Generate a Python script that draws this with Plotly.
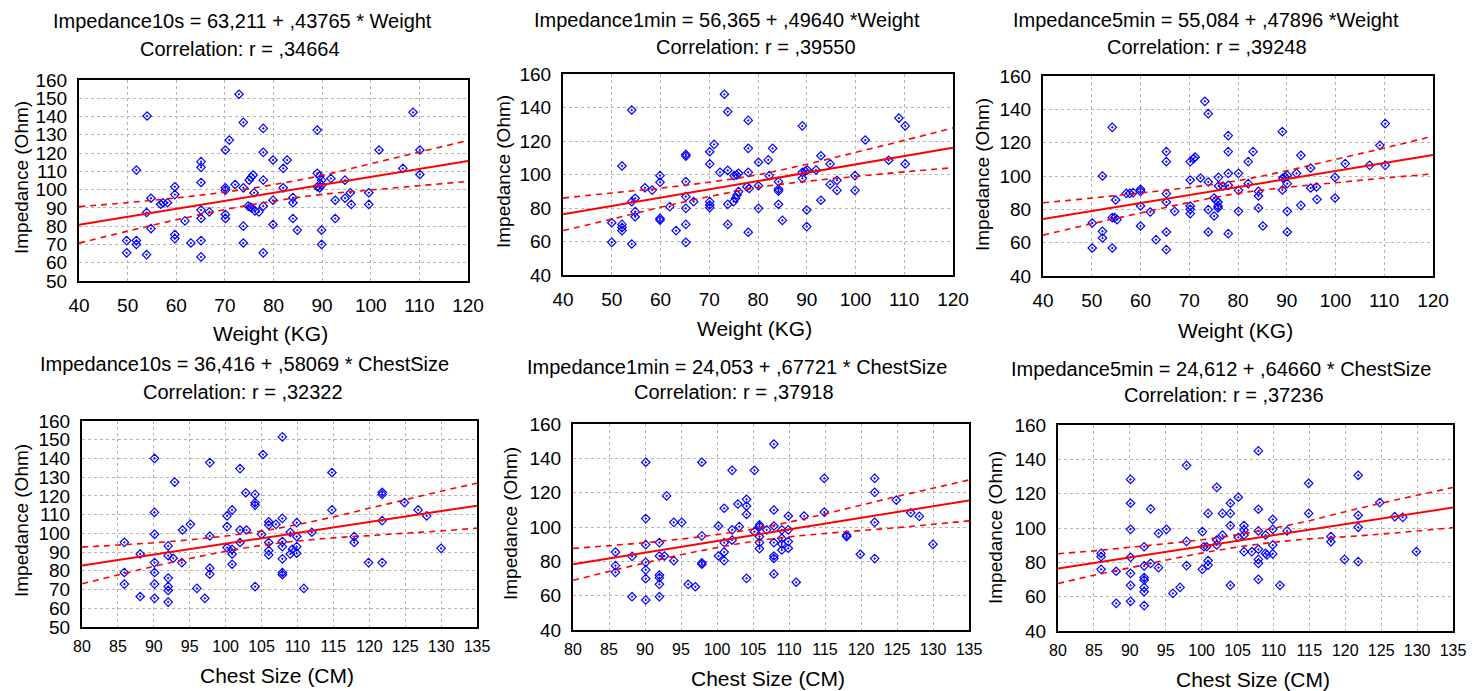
import plotly.graph_objects as go

FONT = "Liberation Sans, Arial, sans-serif"
OFF = 8                      # page body margin of the html page
W, H = 1477 - OFF, 691 - OFF

# ---------------- data ----------------
# Panel 1: Impedance10s vs Weight
p1_weight = [54.0, 51.8, 49.8, 49.8, 51.8, 51.8, 53.9, 53.9, 54.8, 54.8, 56.8, 57.3, 58.2, 59.7, 59.7, 59.7, 59.7,
             61.8, 63.0, 65.1, 65.1, 65.1, 65.1, 65.1, 65.1, 65.1, 66.8, 70.1, 70.9, 70.1, 70.1, 70.1, 70.1, 72.1,
             72.9, 73.8, 73.8, 73.8, 73.8, 75.0, 75.4, 75.8, 74.8, 75.2, 75.5, 76.0, 76.2, 77.0, 77.9, 77.9, 77.9,
             77.9, 77.9, 79.9, 79.9, 79.9, 82.0, 82.8, 82.0, 84.0, 84.0, 84.0, 84.9, 89.0, 89.0, 89.5, 89.0, 89.5,
             89.9, 89.9, 89.9, 89.9, 91.8, 92.7, 92.7, 94.7, 94.7, 95.8, 96.0, 99.6, 99.6, 101.7, 106.6, 108.7,
             110.1, 110.1]
p1_imp10s = [140.3, 110.7, 72.1, 65.4, 72.1, 70.0, 64.4, 87.5, 95.3, 78.7, 92.0, 92.8, 92.8, 101.6, 97.3, 75.4, 73.2,
             82.9, 70.8, 115.3, 112.2, 103.9, 88.8, 84.2, 72.1, 63.2, 87.8, 121.7, 127.1, 101.0, 99.7, 86.4, 84.2,
             102.8, 152.2, 136.8, 101.0, 80.0, 70.8, 105.2, 106.7, 108.0, 91.0, 90.5, 90.0, 98.3, 88.4, 87.8, 133.5,
             120.4, 105.2, 91.0, 65.4, 116.2, 94.2, 80.9, 111.6, 116.2, 101.0, 95.7, 92.8, 84.2, 77.8, 132.6, 108.9,
             107.4, 101.6, 101.0, 105.2, 102.5, 77.8, 70.0, 106.1, 94.2, 84.2, 105.2, 95.3, 98.3, 91.9, 98.3, 91.9,
             121.7, 111.6, 142.3, 121.7, 108.3]

# Panel 2: Impedance1min vs Weight
p2_weight = [54.1, 52.1, 50.0, 50.0, 52.1, 52.1, 52.1, 54.1, 54.1, 54.8, 54.8, 54.8, 56.8, 58.3, 59.9, 59.9, 59.9,
             59.9, 61.9, 63.2, 65.2, 65.2, 65.2, 65.2, 65.2, 65.2, 65.2, 66.8, 70.1, 71.0, 70.1, 70.1, 70.1, 70.1,
             72.2, 73.1, 73.8, 73.8, 73.8, 73.8, 75.1, 75.6, 76.0, 75.0, 75.4, 75.7, 76.0, 78.0, 78.0, 78.0, 77.7,
             78.2, 78.0, 80.1, 80.1, 80.1, 82.1, 83.0, 82.3, 84.2, 84.2, 84.2, 84.2, 85.0, 89.1, 89.1, 89.7, 90.1,
             89.1, 90.0, 90.0, 91.9, 92.9, 92.9, 94.8, 94.8, 96.2, 96.2, 99.9, 99.9, 102.0, 106.8, 108.9, 110.2,
             110.2]
p2_imp1min = [138.5, 105.1, 71.2, 59.5, 70.2, 68.3, 66.5, 58.5, 83.8, 85.8, 77.8, 74.8, 92.1, 90.7, 99.3, 95.3, 73.8,
              72.8, 80.8, 66.5, 112.0, 111.0, 95.7, 86.8, 79.8, 70.2, 59.5, 83.8, 113.6, 118.0, 106.3, 83.8, 81.8,
              80.2, 101.3, 147.9, 137.5, 102.5, 82.2, 70.2, 99.3, 99.7, 100.7, 83.8, 85.8, 87.8, 89.8, 132.3, 115.6,
              101.3, 92.7, 91.7, 65.5, 107.3, 93.3, 79.8, 108.7, 115.6, 99.3, 95.7, 91.3, 90.1, 82.2, 72.6, 129.0,
              101.3, 102.0, 102.7, 97.7, 78.8, 68.9, 102.7, 111.2, 84.6, 106.3, 94.1, 96.5, 90.5, 99.3, 90.5, 120.6,
              108.5, 133.7, 129.0, 106.3]

# Panel 3: Impedance5min vs Weight
p3_weight = [54.2, 52.2, 50.1, 50.1, 52.2, 52.2, 54.2, 54.2, 54.7, 55.2, 54.9, 57.1, 57.8, 58.5, 60.0, 60.0, 60.0,
             60.0, 62.0, 63.2, 65.3, 65.3, 65.3, 65.3, 65.3, 65.3, 67.0, 70.2, 70.9, 71.2, 70.2, 70.2, 70.2, 70.2,
             72.3, 73.2, 73.9, 73.9, 73.9, 73.9, 75.1, 75.1, 75.5, 75.9, 75.9, 75.9, 76.0, 76.0, 76.9, 78.0, 78.0,
             78.0, 78.0, 78.0, 80.1, 80.1, 80.1, 82.1, 83.1, 82.1, 84.2, 84.2, 84.2, 85.1, 89.1, 89.1, 89.2, 89.6,
             90.1, 90.1, 90.1, 90.1, 92.0, 92.9, 92.9, 94.9, 94.9, 96.1, 96.2, 99.9, 99.9, 102.0, 107.0, 109.1,
             110.2, 110.2]
p3_imp5min = [129.2, 100.0, 71.8, 56.8, 66.8, 62.8, 56.8, 75.0, 75.0, 73.8, 85.6, 89.6, 89.6, 90.0, 92.0, 90.8, 82.0,
              70.0, 78.4, 61.8, 114.6, 108.6, 89.4, 84.4, 66.4, 55.8, 78.8, 108.6, 110.4, 111.4, 97.6, 82.0, 80.0,
              77.4, 98.8, 144.8, 137.4, 96.4, 79.8, 66.4, 76.0, 86.8, 85.4, 84.4, 82.0, 80.8, 99.2, 94.0, 94.0, 124.2,
              114.6, 101.6, 94.4, 65.4, 101.6, 91.4, 78.8, 108.6, 114.6, 95.4, 90.8, 88.0, 80.8, 70.0, 126.6, 91.6,
              98.8, 99.4, 100.4, 95.4, 78.8, 66.4, 101.6, 112.4, 82.4, 104.8, 92.8, 93.4, 86.0, 99.2, 86.8, 107.4,
              106.4, 118.4, 131.4, 106.4]

# Panel 4: Impedance10s vs Chest size
p4_chest = [90.1, 90.1, 90.1, 90.1, 90.1, 90.1, 90.1, 85.9, 85.9, 85.9, 88.1, 88.1, 92.0, 92.0, 92.7, 92.0, 92.0,
            92.0, 92.0, 92.9, 93.9, 94.0, 95.1, 96.0, 97.1, 97.8, 97.8, 97.8, 97.8, 100.2, 100.2, 100.2, 100.9,
            100.9, 100.9, 100.9, 102.0, 102.0, 102.9, 102.0, 102.8, 104.1, 104.1, 104.1, 104.1, 105.2, 105.0,
            106.0, 106.0, 106.0, 106.0, 106.0, 107.0, 107.9, 107.9, 107.9, 107.9, 107.9, 107.9, 107.9, 109.0,
            109.0, 109.3, 109.9, 109.9, 109.9, 109.9, 110.9, 112.0, 114.8, 114.8, 117.9, 117.9, 119.9, 121.8,
            121.8, 121.8, 121.8, 124.9, 126.8, 128.0, 130.0]
p4_imp10s = [140.0, 111.2, 99.5, 84.4, 79.1, 72.9, 65.3, 95.2, 79.1, 72.9, 89.0, 66.3, 93.3, 88.1, 86.7, 76.1, 71.6,
             69.5, 63.3, 127.4, 84.4, 101.8, 104.8, 70.6, 65.3, 137.8, 98.6, 81.4, 78.2, 109.3, 103.6, 92.4, 112.5,
             91.5, 89.0, 83.5, 134.6, 101.8, 101.8, 95.1, 121.7, 120.8, 116.4, 115.1, 71.6, 142.1, 99.5, 106.2,
             104.5, 95.1, 90.8, 88.5, 104.8, 151.5, 108.0, 95.6, 92.9, 86.4, 79.1, 77.9, 100.6, 89.0, 91.5, 105.7,
             98.3, 92.9, 89.4, 70.6, 100.6, 132.5, 112.5, 98.3, 95.1, 84.4, 121.9, 120.8, 106.8, 84.4, 116.5,
             112.5, 109.3, 92.0]

# Panel 5: Impedance1min vs Chest size
p5_chest = [90.1, 90.1, 90.1, 90.1, 90.1, 90.1, 90.1, 85.9, 85.9, 85.9, 88.2, 88.2, 92.0, 92.0, 92.7, 92.0, 92.0,
            92.0, 92.0, 93.0, 94.0, 94.0, 95.1, 96.0, 97.0, 97.9, 97.9, 97.9, 97.9, 100.2, 100.2, 101.0, 101.0,
            101.0, 101.0, 102.1, 102.1, 102.1, 102.9, 103.1, 104.1, 104.1, 104.1, 104.1, 105.2, 105.2, 105.9,
            105.9, 105.9, 105.9, 105.9, 106.9, 107.9, 107.9, 107.9, 107.9, 107.9, 107.9, 107.9, 109.0, 109.0,
            109.0, 109.0, 109.9, 109.9, 109.9, 109.9, 111.0, 112.1, 114.9, 114.9, 118.0, 118.0, 119.9, 121.9,
            121.9, 121.9, 121.9, 124.9, 126.9, 128.1, 130.0]
p5_imp1min = [137.7, 104.9, 89.7, 79.4, 75.0, 69.9, 57.5, 85.4, 77.5, 73.6, 82.9, 59.4, 90.9, 83.1, 83.1, 72.0, 70.5,
              66.6, 59.4, 118.1, 102.7, 80.4, 102.7, 66.6, 65.2, 137.7, 94.8, 79.2, 78.3, 100.6, 83.1, 110.9, 90.9,
              85.4, 80.4, 133.0, 98.3, 92.4, 113.4, 100.2, 116.1, 112.2, 107.4, 70.1, 133.0, 97.3, 101.2, 100.2,
              94.4, 90.9, 87.4, 98.3, 148.3, 109.9, 100.6, 90.9, 83.1, 81.7, 72.6, 98.3, 93.4, 90.1, 86.6, 106.4,
              98.3, 91.5, 87.6, 67.8, 106.4, 128.3, 108.7, 95.3, 94.4, 84.1, 128.3, 120.2, 102.7, 81.6, 115.7,
              108.3, 106.2, 89.9]

# Panel 6: Impedance5min vs Chest size
p6_chest = [90.1, 90.1, 90.1, 90.1, 90.1, 90.1, 90.1, 86.0, 86.0, 86.0, 88.1, 88.1, 92.0, 92.0, 92.0, 92.0, 92.0,
            92.0, 92.0, 92.9, 92.9, 94.0, 94.0, 95.1, 96.0, 97.0, 97.9, 97.9, 97.9, 100.1, 100.1, 100.3, 100.7,
            100.9, 100.9, 100.9, 102.1, 102.1, 102.1, 102.9, 102.9, 104.0, 104.0, 104.0, 104.0, 105.1, 105.1,
            105.9, 105.9, 105.9, 105.9, 107.0, 107.9, 107.9, 107.9, 107.9, 107.9, 107.9, 107.9, 108.9, 108.9,
            109.1, 109.9, 109.9, 109.9, 109.9, 110.9, 111.9, 114.9, 114.9, 118.0, 118.0, 119.9, 121.8, 121.8,
            121.8, 121.8, 124.8, 126.9, 128.0, 129.9]
p6_imp5min = [128.3, 114.4, 99.2, 82.9, 73.6, 66.6, 57.3, 85.2, 83.3, 75.9, 74.8, 56.1, 89.1, 77.9, 71.1, 69.7, 65.4,
              62.9, 54.8, 111.1, 79.4, 96.9, 76.9, 99.2, 61.9, 65.4, 136.5, 92.2, 78.1, 97.9, 75.9, 89.1, 89.1, 108.5,
              81.0, 78.4, 123.7, 93.0, 90.1, 108.5, 95.9, 114.4, 108.5, 101.4, 66.6, 117.9, 94.6, 101.4, 98.8, 95.9,
              86.2, 86.2, 144.9, 110.9, 98.3, 87.6, 81.7, 79.4, 70.1, 95.9, 85.2, 84.3, 105.0, 99.2, 90.1, 84.9, 66.6,
              98.3, 126.0, 108.5, 95.0, 92.0, 81.7, 130.7, 107.4, 100.4, 80.4, 114.8, 106.6, 106.2, 86.2]

# Regression coefficients (from the titles)
intercepts = [63.211, 56.365, 55.084, 36.416, 24.053, 24.612]
slopes = [0.43765, 0.49640, 0.47896, 0.58069, 0.67721, 0.64660]

# Confidence band half-widths
weight_band_x = [40, 50, 60, 70, 80, 90, 100, 110, 120]
chest_band_x = [80, 85, 90, 95, 100, 105, 110, 115, 120, 125, 130, 135]
p1_band_hw = [10.0, 7.8, 6.0, 4.8, 4.5, 5.2, 7.2, 9.2, 11.2]
p2_band_hw = [9.7, 7.8, 5.7, 4.3, 3.8, 5.1, 7.2, 9.4, 11.9]
p3_band_hw = [9.7, 7.7, 6.0, 4.5, 3.8, 5.0, 7.0, 9.0, 11.3]
p4_band_hw = [9.8, 8.0, 6.3, 5.0, 4.1, 3.8, 4.4, 5.6, 7.3, 8.9, 10.6, 12.0]
p5_band_hw = [9.3, 7.5, 5.9, 4.6, 3.8, 3.6, 4.3, 5.7, 7.4, 9.1, 10.5, 11.9]
p6_band_hw = [8.7, 7.1, 6.0, 4.8, 3.9, 3.6, 4.1, 5.3, 7.3, 9.0, 10.4, 11.7]

titles = [
    ("Impedance10s = 63,211 + ,43765 * Weight", "Correlation: r = ,34664"),
    ("Impedance1min = 56,365 + ,49640 *Weight", "Correlation: r = ,39550"),
    ("Impedance5min = 55,084 + ,47896 *Weight", "Correlation: r = ,39248"),
    ("Impedance10s = 36,416 + ,58069 * ChestSize", "Correlation: r = ,32322"),
    ("Impedance1min = 24,053 + ,67721 * ChestSize", "Correlation: r = ,37918"),
    ("Impedance5min = 24,612 + ,64660 * ChestSize", "Correlation: r = ,37236"),
]
x_titles = ["Weight (KG)"] * 3 + ["Chest Size (CM)"] * 3
y_title = "Impedance (Ohm)"

# ---------------- layout (pixel boxes, page coordinates) ----------------
boxes = [(79, 80, 468, 281), (563, 74, 953, 275), (1043, 76, 1433, 276),
         (82, 421, 477, 627), (573, 424, 969, 630), (1058, 425, 1453, 631)]
xranges = [(40, 120)] * 3 + [(80, 135)] * 3
xdticks = [10] * 3 + [5] * 3
yranges = [(50, 160), (40, 160), (40, 160), (50, 160), (40, 160), (40, 160)]
ydticks = [10, 20, 20, 10, 20, 20]
title_pos = [(242, 21, 240, 49), (727, 20, 756, 47), (1206, 20, 1207, 47),
             (244, 364, 243, 392), (737, 367, 734, 392), (1221, 369, 1224, 395)]
xtitle_pos = [(270, 334), (754, 328), (1235, 330), (277, 675), (768, 678), (1253, 679)]
ytitle_pos = [(21, 178), (503, 172), (983, 175), (21, 521), (510, 524), (995, 528)]

xs = [p1_weight, p2_weight, p3_weight, p4_chest, p5_chest, p6_chest]
ys = [p1_imp10s, p2_imp1min, p3_imp5min, p4_imp10s, p5_imp1min, p6_imp5min]
bands_x = [weight_band_x] * 3 + [chest_band_x] * 3
bands_hw = [p1_band_hw, p2_band_hw, p3_band_hw, p4_band_hw, p5_band_hw, p6_band_hw]

fig = go.Figure()
layout = dict(
    template="none",
    width=W, height=H, margin=dict(l=0, r=0, t=0, b=0, pad=0, autoexpand=False),
    paper_bgcolor="white", plot_bgcolor="white", showlegend=False,
    font=dict(family=FONT, color="black", size=18),
)
annotations = []


def px2fx(px):
    return (px - OFF) / W


def px2fy(py):
    return 1 - (py - OFF) / H


for i in range(6):
    n = "" if i == 0 else str(i + 1)
    xa, ya = "x" + n, "y" + n
    l, t, r, b = boxes[i]
    layout["xaxis" + n] = dict(
        domain=[px2fx(l), px2fx(r)], range=list(xranges[i]), dtick=xdticks[i], tick0=0,
        anchor=ya, showgrid=True, gridcolor="#b4b4b4", griddash="dot", gridwidth=1,
        showline=True, linecolor="black", linewidth=2, mirror=True, ticks="",
        zeroline=False, automargin=False, tickfont=dict(family=FONT, size=19 if i < 3 else 16),
        ticklabelstandoff=6 if i < 3 else 4,
    )
    layout["yaxis" + n] = dict(
        domain=[px2fy(b), px2fy(t)], range=list(yranges[i]), dtick=ydticks[i], tick0=0,
        anchor=xa, showgrid=True, gridcolor="#b4b4b4", griddash="dot", gridwidth=1,
        showline=True, linecolor="black", linewidth=2, mirror=True, ticks="",
        zeroline=False, automargin=False, tickfont=dict(family=FONT, size=19), ticklabelstandoff=6,
    )
    a, s = intercepts[i], slopes[i]
    bx = bands_x[i]
    fit = [a + s * v for v in bx]
    upper = [f + h for f, h in zip(fit, bands_hw[i])]
    lower = [f - h for f, h in zip(fit, bands_hw[i])]
    fig.add_trace(go.Scatter(x=xs[i], y=ys[i], mode="markers", xaxis=xa, yaxis=ya,
                             marker=dict(symbol="diamond-open-dot", size=6.5, color="#0000ff",
                                         line=dict(width=1.2, color="#0000ff"))))
    for band in (upper, lower):
        fig.add_trace(go.Scatter(x=bx, y=band, mode="lines", xaxis=xa, yaxis=ya,
                                 line=dict(color="#ff0000", width=1.6, dash="6px,5px", shape="spline")))
    fig.add_trace(go.Scatter(x=[bx[0], bx[-1]], y=[fit[0], fit[-1]], mode="lines", xaxis=xa, yaxis=ya,
                             line=dict(color="#ff0000", width=2)))

    t1x, t1y, t2x, t2y = title_pos[i]
    annotations.append(dict(text=titles[i][0], x=px2fx(t1x), y=px2fy(t1y), xref="paper", yref="paper",
                            showarrow=False, xanchor="center", yanchor="middle", font=dict(size=20)))
    annotations.append(dict(text=titles[i][1], x=px2fx(t2x), y=px2fy(t2y), xref="paper", yref="paper",
                            showarrow=False, xanchor="center", yanchor="middle", font=dict(size=20)))
    tx, ty = xtitle_pos[i]
    annotations.append(dict(text=x_titles[i], x=px2fx(tx), y=px2fy(ty), xref="paper", yref="paper",
                            showarrow=False, xanchor="center", yanchor="middle", font=dict(size=21)))
    yx, yy = ytitle_pos[i]
    annotations.append(dict(text=y_title, x=px2fx(yx), y=px2fy(yy), xref="paper", yref="paper",
                            showarrow=False, xanchor="center", yanchor="middle", textangle=-90,
                            font=dict(size=19)))

layout["annotations"] = annotations
fig.update_layout(**layout)
fig.write_html("out.html")
